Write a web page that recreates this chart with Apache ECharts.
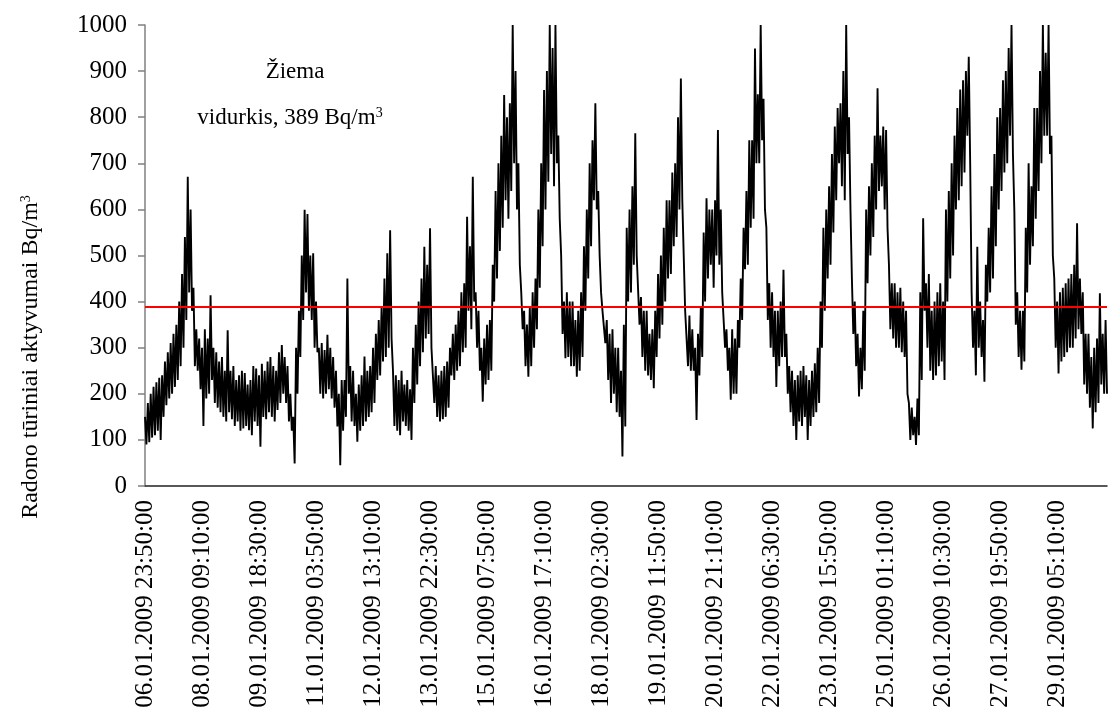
<!DOCTYPE html>
<html>
<head>
<meta charset="utf-8">
<script src="https://cdn.jsdelivr.net/npm/echarts@6/dist/echarts.min.js"></script>
<style>
html, body { margin: 0; padding: 0; background: #ffffff; }
#chart { width: 1108px; height: 720px; }
</style>
</head>
<body>
<div id="chart"></div>
<script>
// ---- data ----
const startStamp = [2009, 0, 6, 23, 50];   // 06.01.2009 23:50:00, first category
const stepMinutes = 50;                      // sampling step of the values below
const labelEvery = 40;                       // one label every 40 categories (2000 min)

const radonValues = [
  150,90, 180,95, 200,105, 215,110, 225,120, 235,100, 240,150, 270,175, 290,190, 310,200,
  330,215, 350,230, 400,260, 460,300, 540,360, 671,420, 600,380, 430,260, 340,250, 320,210,
  300,130, 340,190, 320,200, 414,230, 300,180, 290,170, 270,160, 280,150, 250,140,
  338,160, 250,145, 260,130, 230,140, 240,120, 250,125, 245,130, 220,121, 230,110, 260,140,
  255,130, 240,85, 265,150, 250,145, 270,160, 280,150, 260,140, 250,165, 290,180, 306,200,
  280,180, 260,140, 200,120, 150,49, 300,200, 380,280, 500,360, 599,420, 590,380,
  500,360, 505,300, 400,290, 300,200, 310,190, 295,200, 328,210, 300,190, 280,170, 250,129,
  200,45, 230,120, 230,150, 450,200, 260,140, 250,130, 200,96, 220,120, 240,130, 281,140,
  250,150, 260,160, 300,180, 330,230, 360,240, 390,270, 450,280, 505,300, 555,320,
  250,130, 240,120, 230,110, 250,140, 220,130, 230,120, 210,100, 300,180, 350,220, 400,260,
  450,290, 519,320, 480,330, 559,300, 300,180, 260,150, 240,140, 250,145, 260,150, 270,170,
  300,240, 330,230, 350,250, 380,260, 420,290, 440,300, 584,380, 520,340, 671,400,
  420,300, 380,250, 300,183, 320,220, 350,230, 360,250, 480,400, 640,450, 700,510, 760,560,
  848,620, 800,580, 830,640, 1000,700, 900,600, 700,480, 420,340, 380,260, 350,237, 389,260,
  420,300, 450,340, 600,430, 700,520, 859,600, 900,660, 1000,720, 950,650, 1000,700,
  760,580, 500,330, 400,277, 420,280, 400,260, 400,260, 360,237, 380,250, 420,280, 520,380,
  600,450, 700,520, 750,620, 830,600, 640,500, 420,380, 380,310, 360,230, 330,180, 340,200,
  300,160, 300,150, 250,64, 350,129, 560,400, 600,420, 650,480, 765,500, 500,350,
  410,280, 380,250, 380,240, 330,230, 340,212, 380,280, 460,320, 500,350, 560,400, 620,450,
  620,460, 680,520, 700,540, 800,600, 884,620, 500,380, 380,260, 370,250, 340,250, 300,143,
  330,240, 390,280, 550,400, 624,450, 600,480, 600,430, 620,500, 772,480, 600,420,
  360,300, 340,250, 300,187, 340,200, 320,200, 360,300, 450,360, 560,470, 640,480, 750,560,
  750,580, 949,700, 850,700, 1000,750, 840,600, 560,360, 440,300, 420,280, 380,215, 380,260,
  400,280, 469,280, 330,200, 260,160, 250,130, 230,100, 240,140, 250,130, 260,150,
  240,100, 230,130, 250,150, 266,160, 300,180, 400,300, 560,380, 600,450, 650,480, 720,550,
  780,620, 820,700, 830,650, 900,620, 1000,720, 800,600, 450,330, 400,260, 330,194, 300,210,
  380,250, 600,440, 650,500, 700,540, 760,600, 863,640, 760,650, 780,600, 772,560,
  480,340, 440,320, 440,300, 420,300, 430,290, 400,280, 380,200, 180,100, 170,110, 150,89,
  190,110, 420,230, 581,380, 440,300, 460,250, 380,230, 400,240, 420,260, 440,270, 400,230,
  600,400, 640,450, 700,500, 760,600, 820,620, 860,650, 880,680, 900,760, 931,700,
  420,300, 380,240, 519,300, 400,280, 360,226, 480,400, 560,420, 650,450, 720,520, 800,600,
  820,640, 880,680, 900,700, 950,760, 1000,720, 595,350, 420,280, 380,252, 380,270,
  560,420, 700,480, 650,520, 820,580, 820,640, 900,700, 1000,760, 940,760, 1000,720, 760,500,
  450,300, 400,244, 420,270, 430,280, 440,290, 450,300, 460,300, 480,320, 570,340, 450,330,
  420,220, 330,200, 330,170, 280,125, 300,160, 320,180, 418,220, 330,200, 360,200
];

const meanValue = 389;
const yMin = 0, yMax = 1000, yStep = 100;

const yAxisTitle = 'Radono tūriniai aktyvumai Bq/m';
const seasonLabel = 'Žiema';
const meanLabel = 'vidurkis, 389 Bq/m';
const unitSup = '3';

// ---- categories (time stamps of the samples) ----
function pad(n) { return (n < 10 ? '0' : '') + n; }
const t0 = Date.UTC.apply(null, startStamp);
const categories = radonValues.map(function (_, k) {
  const d = new Date(t0 + k * stepMinutes * 60000);
  return pad(d.getUTCDate()) + '.' + pad(d.getUTCMonth() + 1) + '.' + d.getUTCFullYear() +
    ' ' + pad(d.getUTCHours()) + ':' + pad(d.getUTCMinutes()) + ':' + pad(d.getUTCSeconds());
});

// ---- chart ----
const FONT = "'Liberation Serif', 'Times New Roman', serif";
const chart = echarts.init(document.getElementById('chart'), null, { renderer: 'canvas' });

const option = {
  animation: false,
  backgroundColor: '#ffffff',
  grid: { left: 145, right: 1, top: 25, bottom: 234, containLabel: false },
  xAxis: {
    type: 'category',
    data: categories,
    boundaryGap: false,
    axisLine: { show: true, lineStyle: { color: '#222222', width: 1.5 } },
    axisTick: { show: false },
    splitLine: { show: false },
    axisLabel: {
      interval: function (index) { return index % labelEvery === 0; },
      rotate: 90,
      margin: 14,
      color: '#000000',
      fontFamily: FONT,
      fontSize: 25,
      hideOverlap: false
    }
  },
  yAxis: {
    type: 'value',
    min: yMin,
    max: yMax,
    interval: yStep,
    axisLine: { show: true, lineStyle: { color: '#808080', width: 1.5 } },
    axisTick: { show: true, inside: false, length: 7, lineStyle: { color: '#808080', width: 1.5 } },
    splitLine: { show: false },
    axisLabel: {
      margin: 18,
      color: '#000000',
      fontFamily: FONT,
      fontSize: 25,
      formatter: function (v) { return String(v); }
    }
  },
  series: [{
    type: 'line',
    data: radonValues,
    showSymbol: false,
    symbol: 'none',
    lineStyle: { color: '#000000', width: 1.9 },
    silent: true,
    markLine: {
      silent: true,
      symbol: ['none', 'none'],
      label: { show: false },
      lineStyle: { color: '#ff0000', width: 2, type: 'solid' },
      data: [{ yAxis: meanValue }]
    }
  }],
  graphic: [
    {
      type: 'text',
      x: 31,
      y: 357,
      rotation: Math.PI / 2,
      style: {
        text: '{a|' + yAxisTitle + '}{s|' + unitSup + '}',
        align: 'center',
        verticalAlign: 'middle',
        rich: {
          a: { fontFamily: FONT, fontSize: 24, fill: '#000000' },
          s: { fontFamily: FONT, fontSize: 14, fill: '#000000', verticalAlign: 'top' }
        }
      }
    },
    {
      type: 'text',
      x: 295,
      y: 72,
      style: {
        text: seasonLabel,
        align: 'center',
        verticalAlign: 'middle',
        fontFamily: FONT,
        fontSize: 23,
        fill: '#000000'
      }
    },
    {
      type: 'text',
      x: 290,
      y: 118,
      style: {
        text: '{a|' + meanLabel + '}{s|' + unitSup + '}',
        align: 'center',
        verticalAlign: 'middle',
        rich: {
          a: { fontFamily: FONT, fontSize: 23, fill: '#000000' },
          s: { fontFamily: FONT, fontSize: 14, fill: '#000000', verticalAlign: 'top' }
        }
      }
    }
  ]
};
chart.setOption(option);
</script>
</body>
</html>
